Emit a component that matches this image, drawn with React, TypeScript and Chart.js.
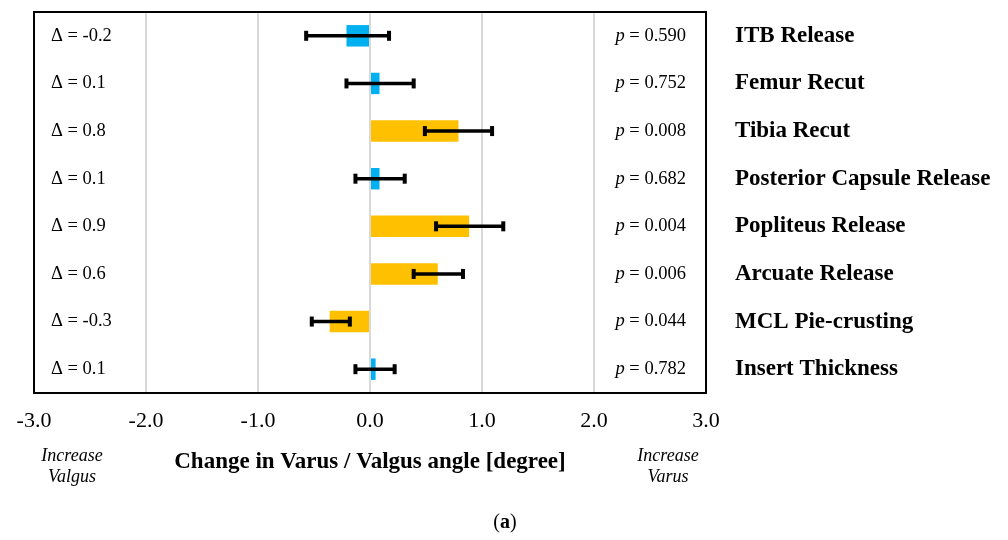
import { useEffect, useRef } from 'react';
import { Chart, registerables } from 'chart.js';

Chart.register(...registerables);

const categories = [
  'ITB Release',
  'Femur Recut',
  'Tibia Recut',
  'Posterior Capsule Release',
  'Popliteus Release',
  'Arcuate Release',
  'MCL Pie-crusting',
  'Insert Thickness',
];
const meanChange = [-0.21, 0.085, 0.79, 0.085, 0.885, 0.605, -0.36, 0.05];
const errorLow = [-0.57, -0.21, 0.49, -0.13, 0.59, 0.39, -0.52, -0.13];
const errorHigh = [0.17, 0.39, 1.09, 0.31, 1.19, 0.83, -0.18, 0.22];
const deltaLabels = ['-0.2', '0.1', '0.8', '0.1', '0.9', '0.6', '-0.3', '0.1'];
const pValues = ['0.590', '0.752', '0.008', '0.682', '0.004', '0.006', '0.044', '0.782'];
const xMin = -3;
const xMax = 3;
const xStep = 1;
const xTitle = 'Change in Varus / Valgus angle [degree]';
const leftNote = ['Increase', 'Valgus'];
const rightNote = ['Increase', 'Varus'];
const panelLabel = 'a';

const SERIF = "'Liberation Serif', 'Times New Roman', serif";

const overlayPlugin = {
  id: 'overlay',
  afterDatasetsDraw(chart: any) {
    const ctx = chart.ctx;
    const xs = chart.scales.x;
    const ys = chart.scales.y;
    const area = chart.chartArea;
    ctx.save();

    // error bars
    ctx.strokeStyle = '#000';
    ctx.fillStyle = '#000';
    ctx.lineWidth = 3.5;
    categories.forEach((_, i) => {
      const y = ys.getPixelForValue(i);
      const x1 = xs.getPixelForValue(errorLow[i]);
      const x2 = xs.getPixelForValue(errorHigh[i]);
      ctx.beginPath();
      ctx.moveTo(x1, y);
      ctx.lineTo(x2, y);
      ctx.stroke();
      ctx.fillRect(x1 - 2, y - 5, 4, 10);
      ctx.fillRect(x2 - 2, y - 5, 4, 10);
    });

    // delta labels & p-values
    ctx.textBaseline = 'middle';
    categories.forEach((_, i) => {
      const y = ys.getPixelForValue(i);
      ctx.font = `18.5px ${SERIF}`;
      ctx.textAlign = 'left';
      ctx.fillText(`Δ = ${deltaLabels[i]}`, area.left + 17, y);

      const rest = ` = ${pValues[i]}`;
      const xr = area.right - 20;
      ctx.textAlign = 'right';
      ctx.fillText(rest, xr, y);
      const w = ctx.measureText(rest).width;
      ctx.font = `italic 18.5px ${SERIF}`;
      ctx.fillText('p', xr - w, y);
    });

    // box
    ctx.lineWidth = 2;
    ctx.strokeStyle = '#000';
    ctx.strokeRect(area.left, area.top, area.right - area.left, area.bottom - area.top);

    // axis title
    ctx.textBaseline = 'alphabetic';
    ctx.textAlign = 'center';
    ctx.font = `bold 23px ${SERIF}`;
    ctx.fillText(xTitle, (area.left + area.right) / 2, area.bottom + 75);

    // notes
    ctx.font = `italic 18px ${SERIF}`;
    const lx = area.left + 38;
    const rx = area.right - 38;
    ctx.fillText(leftNote[0], lx, area.bottom + 68);
    ctx.fillText(leftNote[1], lx, area.bottom + 89);
    ctx.fillText(rightNote[0], rx, area.bottom + 68);
    ctx.fillText(rightNote[1], rx, area.bottom + 89);

    // panel label
    const cx = 505;
    const by = 528;
    ctx.font = `bold 20px ${SERIF}`;
    const aw = ctx.measureText(panelLabel).width;
    ctx.font = `20px ${SERIF}`;
    const pw = ctx.measureText('(').width;
    const total = aw + 2 * pw;
    ctx.textAlign = 'left';
    ctx.fillText('(', cx - total / 2, by);
    ctx.fillText(')', cx - total / 2 + pw + aw, by);
    ctx.font = `bold 20px ${SERIF}`;
    ctx.fillText(panelLabel, cx - total / 2 + pw, by);

    ctx.restore();
  },
};

export default function App() {
  const canvasRef = useRef<HTMLCanvasElement | null>(null);

  useEffect(() => {
    if (!canvasRef.current) return;
    Chart.defaults.font.family = SERIF;
    const chart = new Chart(canvasRef.current, {
      type: 'bar',
      data: {
        labels: categories,
        datasets: [
          {
            data: meanChange,
            backgroundColor: pValues.map((p) => (parseFloat(p) < 0.05 ? '#FFC000' : '#00B0F0')),
            borderWidth: 0,
            categoryPercentage: 1,
            barPercentage: 0.45,
          },
        ],
      },
      options: {
        indexAxis: 'y',
        animation: false,
        responsive: true,
        maintainAspectRatio: false,
        layout: { padding: { left: 34, top: 12, right: 0, bottom: 0 } },
        plugins: {
          legend: { display: false },
          tooltip: { enabled: false },
        },
        scales: {
          x: {
            type: 'linear',
            min: xMin,
            max: xMax,
            grid: { color: '#d9d9d9', lineWidth: 2, drawTicks: false },
            border: { display: false },
            ticks: {
              stepSize: xStep,
              color: '#000',
              padding: 15,
              font: { size: 22, family: SERIF },
              callback: (v: any) => Number(v).toFixed(1),
            },
            afterFit: (scale: any) => {
              scale.height = 147;
              scale.paddingLeft = 0;
              scale.paddingRight = 0;
            },
          },
          y: {
            type: 'category',
            position: 'right',
            grid: { display: false },
            border: { display: false },
            ticks: {
              color: '#000',
              crossAlign: 'near',
              padding: 21,
              font: { size: 23, weight: 'bold', family: SERIF },
            },
            afterFit: (scale: any) => {
              scale.width = 302;
              scale.paddingTop = 0;
              scale.paddingBottom = 0;
            },
          },
        },
      },
      plugins: [overlayPlugin],
    } as any);
    return () => chart.destroy();
  }, []);

  return (
    <div style={{ position: 'fixed', left: 0, top: 0, width: 1008, height: 540, background: '#fff' }}>
      <canvas ref={canvasRef} />
    </div>
  );
}
